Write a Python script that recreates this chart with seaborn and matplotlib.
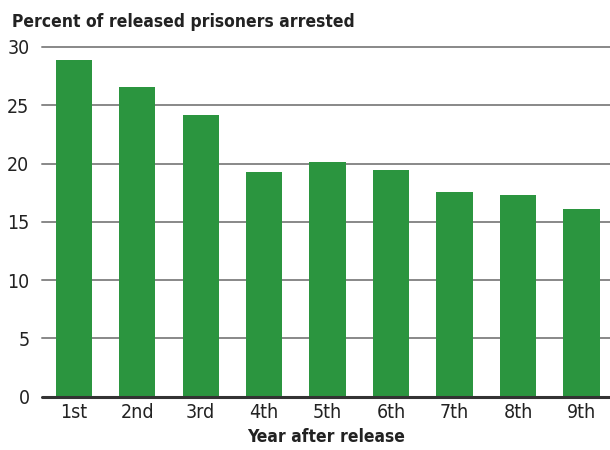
import matplotlib
matplotlib.use("Agg")
import matplotlib.pyplot as plt
import seaborn as sns
import pandas as pd

years = ["1st", "2nd", "3rd", "4th", "5th", "6th", "7th", "8th", "9th"]
percent_arrested = [28.9, 26.6, 24.2, 19.3, 20.1, 19.4, 17.55, 17.3, 16.1]
yticks = [0, 5, 10, 15, 20, 25, 30]

sns.set_theme(style="white")
plt.rcParams["font.family"] = ["DejaVu Sans"]
plt.rcParams["font.stretch"] = "condensed"

df = pd.DataFrame({"year": years, "pct": percent_arrested})

fig = plt.figure(figsize=(6.1, 4.5), dpi=100)
ax = fig.add_axes([42/610, (450-396.5)/450, 568/610, (396.5-47)/450])
sns.barplot(data=df, x="year", y="pct", color="#2b953f", saturation=1,
            width=0.57, ax=ax, zorder=3, linewidth=0)
ax.set_xlim(-0.5, 8.45)
ax.set_ylim(0, 30)
ax.set_yticks(yticks)
for y in yticks[1:]:
    ax.axhline(y, color="#888888", lw=1.4, zorder=1, clip_on=False)
ax.axhline(0, color="#333333", lw=2.2, zorder=4, clip_on=False)
for s in ax.spines.values():
    s.set_visible(False)
ax.tick_params(axis="both", length=0, labelsize=14, colors="#222222")
for lab in ax.get_xticklabels() + ax.get_yticklabels():
    lab.set_fontstretch("condensed")
ax.tick_params(axis="x", pad=5)
ax.tick_params(axis="y", pad=9)
ax.set_ylabel("")
ax.set_xlabel("Year after release", fontsize=12.5, fontweight="bold", color="#222222",
              labelpad=4, fontstretch="condensed")
fig.text(12/610, 1 - 22/450, "Percent of released prisoners arrested", fontsize=12.5,
         fontweight="bold", color="#222222", va="center", ha="left", fontstretch="condensed")
fig.savefig("out.png", dpi=100)
